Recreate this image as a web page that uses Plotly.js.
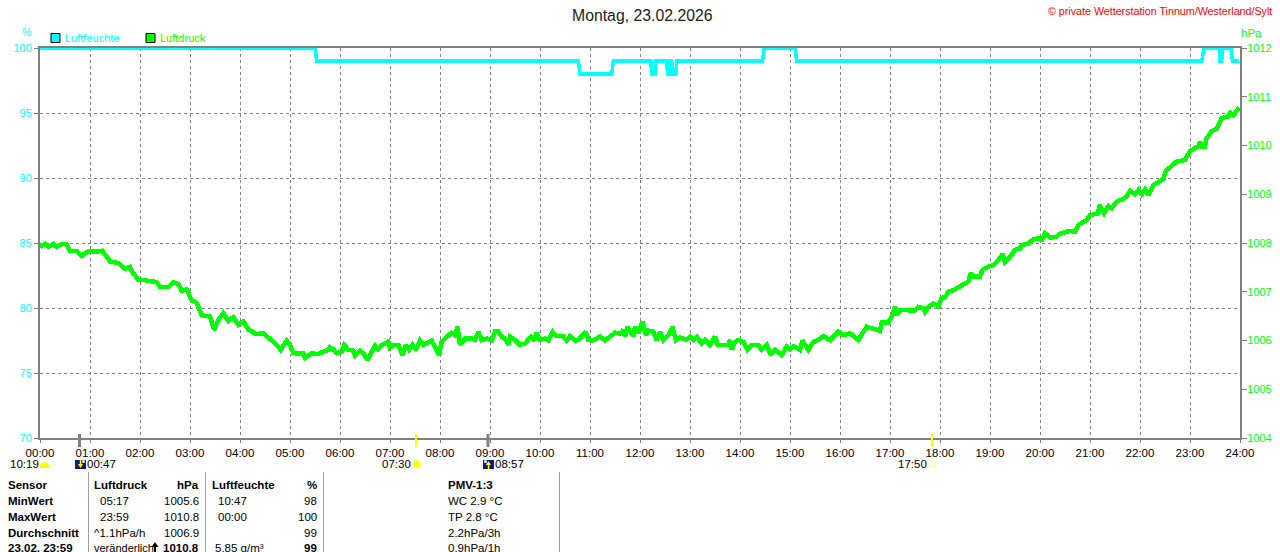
<!DOCTYPE html>
<html><head><meta charset="utf-8">
<script src="https://cdn.plot.ly/plotly-3.0.1.min.js"></script>
<style>html,body{margin:0;padding:0;background:#fff;overflow:hidden}#c{width:1280px;height:552px}
.scatterlayer path{shape-rendering:crispEdges}</style></head><body><div id="c"></div>
<script>
const pressureMinutes=[0,6,10,16,20,26,32,36,44,50,54,60,66,74,78,84,94,102,108,112,118,124,140,144,154,160,166,170,176,182,188,194,204,209,214,220,226,232,238,244,250,260,268,274,284,289,296,300,304,316,318,326,333,346,
348,352,356,362,365,370,376,378,384,388,393,398,402,406,410,418,420,424,430,435,439,443,447,451,456,460,470,474,479,482,488,494,498,501,504,510,518,522,526,530,536,542,546,550,554,558,562,564,570,576,582,589,593,596,600,606,610,615,620,628,632,636,642,646,655,658,664,672,678,684,690,696,700,702,705,708,
712,714,718,723,727,730,736,740,744,748,754,759,763,768,776,780,784,788,794,798,804,810,813,826,828,830,834,838,844,849,854,862,866,872,877,882,890,896,900,904,912,915,922,928,934,940,948,958,964,972,982,992,1000,1008,1010,1018,1022,1026,1028,1034,1050,1054,1060,1062,1066,
1072,1078,1082,1086,1090,1096,1104,1114,1117,1120,1128,1131,1138,1144,1150,1155,1158,1164,1170,1176,1179,1186,1192,1200,1202,1206,1212,1220,1224,1230,1236,1242,1246,1256,1260,1270,1271,1277,1282,1286,1292,1298,1304,1308,1314,1318,1322,1326,1330,1336,1342,1348,1351,1358,1364,1374,1380,1390,1392,1394,1398,1400,1406,1412,1418,1426,1428,1432,1438,1439];
const pressureHpa=[1007.92,1007.98,1007.92,1007.98,1007.92,1007.98,1007.98,1007.84,1007.84,1007.73,1007.79,1007.84,1007.82,1007.84,1007.77,1007.62,1007.59,1007.47,1007.51,1007.38,1007.24,1007.24,1007.20,1007.10,1007.10,1007.19,1007.16,1007.02,1007.05,1006.82,1006.77,1006.52,1006.49,1006.22,1006.42,1006.56,1006.40,1006.48,1006.32,1006.39,1006.22,1006.13,1006.15,1006.07,1005.91,1005.81,1006.00,1005.91,1005.74,1005.73,1005.64,1005.74,1005.72,1005.81,
1005.86,1005.82,1005.74,1005.77,1005.91,1005.81,1005.79,1005.70,1005.79,1005.74,1005.60,1005.77,1005.89,1005.82,1005.90,1005.98,1005.85,1005.91,1005.91,1005.70,1005.91,1005.81,1005.91,1005.81,1006.00,1005.91,1006.00,1005.86,1005.70,1005.98,1006.08,1006.16,1006.11,1006.28,1005.91,1006.04,1006.04,1006.01,1006.18,1006.01,1006.04,1006.00,1006.18,1006.18,1006.08,1006.04,1005.91,1006.08,1006.01,1005.91,1005.94,1006.08,1006.00,1006.16,1006.01,1006.04,1006.00,1006.18,1006.09,1006.09,1006.00,1006.09,1006.00,1006.01,1006.18,1006.01,1006.00,1006.08,1006.00,1006.08,1006.16,1006.14,1006.22,1006.08,1006.28,1006.18,
1006.09,1006.28,1006.15,1006.39,1006.11,1006.20,1006.18,1006.01,1006.17,1006.01,1006.11,1006.28,1006.01,1006.06,1006.01,1006.08,1006.01,1006.08,1005.94,1006.01,1005.91,1006.08,1005.91,1005.91,1006.01,1005.81,1005.97,1006.01,1005.97,1005.81,1005.91,1005.91,1005.81,1005.91,1005.70,1005.81,1005.70,1005.88,1005.81,1005.88,1005.81,1006.00,1005.81,1005.97,1006.01,1006.09,1006.01,1006.18,1006.11,1006.15,1006.01,1006.28,1006.24,1006.20,1006.37,1006.37,1006.49,1006.69,1006.52,1006.63,1006.61,1006.69,1006.66,1006.59,1006.69,
1006.76,1006.70,1006.87,1006.89,1007.00,1007.03,1007.10,1007.21,1007.38,1007.31,1007.31,1007.45,1007.51,1007.55,1007.65,1007.77,1007.61,1007.71,1007.86,1007.89,1007.96,1007.99,1008.08,1008.10,1008.03,1008.20,1008.11,1008.13,1008.19,1008.21,1008.25,1008.23,1008.37,1008.47,1008.57,1008.61,1008.78,1008.61,1008.76,1008.71,1008.85,1008.89,1008.95,1009.07,1009.00,1009.09,1009.00,1009.10,1008.98,1009.19,1009.26,1009.31,1009.48,1009.57,1009.67,1009.70,1009.89,1009.98,1010.08,1009.98,1009.98,1010.15,1010.29,1010.35,1010.56,1010.60,1010.67,1010.62,1010.73,1010.78];
const humidityMinutes=[0,330,332,646,648,686,688,733,734,738,739,752,753,755,756,758,759,763,764,867,869,906,908,1394,1397,1415,1416,1418,1419,1429,1431,1439];
const humidityPct=[100,100,99,99,98,98,99,99,98,98,99,99,98,98,99,99,98,98,99,99,100,100,99,99,100,100,99,99,100,100,99,99];
const hourTicks=[0,60,120,180,240,300,360,420,480,540,600,660,720,780,840,900,960,1020,1080,1140,1200,1260,1320,1380,1440];
const hourLabels=["00:00","01:00","02:00","03:00","04:00","05:00","06:00","07:00","08:00","09:00","10:00","11:00","12:00","13:00","14:00","15:00","16:00","17:00","18:00","19:00","20:00","21:00","22:00","23:00","24:00"];
const humidityTicks=[70,75,80,85,90,95,100];
const pressureTicks=[1004,1005,1006,1007,1008,1009,1010,1011,1012];
const sunEvents=["10:19","07:30","17:50"];
const moonEvents=["00:47","08:57"];
const tableRows=[
 ["Sensor","Luftdruck","hPa","Luftfeuchte","%","PMV-1:3"],
 ["MinWert","05:17","1005.6","10:47","98","WC 2.9 °C"],
 ["MaxWert","23:59","1010.8","00:00","100","TP 2.8 °C"],
 ["Durchschnitt","^1.1hPa/h","1006.9","","99","2.2hPa/3h"],
 ["23.02. 23:59","veränderlich","1010.8","5.85 g/m³","99","0.9hPa/1h"]];

const FONT='"Liberation Sans",Arial,sans-serif';
const GRAY='#808080';
const px=x=>(x-40)/1200, py=y=>(438-y)/390;
const ann=[],shp=[];
function T(x,y,t,o={}){const a=o.a||'left';const dx=a==='right'?1.5:a==='left'?-1:0;
 ann.push({xref:'paper',yref:'paper',x:px(x+dx),y:py(y),text:o.b?'<b>'+t+'</b>':t,showarrow:false,
 xanchor:a,yanchor:'middle',align:a,font:{family:FONT,size:o.s||11.5,color:o.c||'#000'},borderpad:0});}
function R(x0,y0,x1,y1,fill,line,w){shp.push({type:'rect',xref:'paper',yref:'paper',x0:px(x0),x1:px(x1),y0:py(y0),y1:py(y1),fillcolor:fill||'rgba(0,0,0,0)',line:{color:line||fill,width:w===undefined?0:w}});}
function L(x0,y0,x1,y1,c,w){shp.push({type:'line',xref:'paper',yref:'paper',x0:px(x0),x1:px(x1),y0:py(y0),y1:py(y1),line:{color:c,width:w}});}
function C(x0,y0,x1,y1,fill,line,w){shp.push({type:'circle',xref:'paper',yref:'paper',x0:px(x0),x1:px(x1),y0:py(y0),y1:py(y1),fillcolor:fill,line:{color:line||fill,width:w||0}});}
function P(pts,fill){shp.push({type:'path',xref:'paper',yref:'paper',path:'M'+pts.map(p=>px(p[0])+','+py(p[1])).join(' L')+' Z',fillcolor:fill,line:{width:0}});}

// header
T(642.5,15,'Montag, 23.02.2026',{a:'center',s:15.8,c:'#222'});
T(1048,11,'© private Wetterstation Tinnum/Westerland/Sylt',{s:10.7,c:'#ff0000'});
T(26.5,32,'%',{a:'center',s:11,c:'#00ffff'});
T(1241,33,'hPa',{s:11.5,c:'#00ff00'});
// legend
R(51,33.5,60,42.5,'#00ffff','#000',1);
T(65,38,'Luftfeuchte',{s:11,c:'#00ffff'});
R(146,33.5,155,42.5,'#00ff00','#000',1);
T(160,38,'Luftdruck',{s:11,c:'#00ff00'});
// event markers
L(79.5,434,79.5,447,GRAY,3);L(488,434,488,447,GRAY,3);
L(416,434,416,447,'#ffff00',2);L(932,434,932,447,'#ffff00',2);
T(10,464,sunEvents[0]);
shp.push({type:'path',xref:'paper',yref:'paper',path:`M${px(40)},${py(468)} L${px(40)},${py(465)} Q${px(44.5)},${py(459)} ${px(49)},${py(465)} L${px(49)},${py(468)} Z`,fillcolor:'#ffff00',line:{width:0}});
function moon(x,up){R(x,460,x+11,469,'#0a1a80');C(x+(up?1:7),460,x+(up?4:10),463,'#ffffff');
 P(up?[[x+5.5,461],[x+8,465],[x+2.8,465]]:[[x+5.5,468],[x+8,464],[x+2.8,464]],'#ffff00');
 L(x+5.5,up?465:460,x+5.5,up?469:464,'#ffff00',1.5);}
moon(75,false);T(87,464,moonEvents[0]);
T(382,464,sunEvents[1]);C(413,460,421,468,'#ffff00','#ffffa0',1.5);
moon(483,true);T(495,464,moonEvents[1]);
T(898,464,sunEvents[2]);R(929.5,461,934.5,467,'#ffffff','#ffff80',1);
// table
[88.5,205.5,323.5,559.5].forEach(x=>L(x,472,x,552,'#a0a0a0',1));
const rowY=[484.5,500.5,516.5,532.5,548];
const nameX=[94,100,100,94,94], humX=[212,218,218,218,215];
tableRows.forEach((r,i)=>{const y=rowY[i],h=i===0,l=i===4;
 T(8,y,r[0],{b:true});
 T(nameX[i],y,r[1],{b:h,s:i===4?11:11.5});
 T(198,y,r[2],{a:'right',b:h||l});
 if(r[3])T(humX[i],y,r[3],{b:h});
 T(316,y,r[4],{a:'right',b:h||l});
 T(448,y,r[5],{b:h});
});
P([[155,542],[158.5,547],[151.5,547]],'#000');L(155,546,155,552,'#000',2);

const data=[
 {x:humidityMinutes,y:humidityPct,type:'scatter',mode:'lines',name:'Luftfeuchte',line:{color:'#00ffff',width:3.5},yaxis:'y'},
 {x:pressureMinutes,y:pressureHpa,type:'scatter',mode:'lines',name:'Luftdruck',line:{color:'#00ff00',width:4.5},yaxis:'y2'}];
const layout={width:1280,height:552,margin:{l:40,r:40,t:48,b:114,pad:0},paper_bgcolor:'#fff',plot_bgcolor:'#fff',showlegend:false,
 font:{family:FONT,size:12,color:'#000'},
 xaxis:{range:[0,1440],tickmode:'array',tickvals:hourTicks,ticktext:hourLabels,ticks:'outside',ticklen:3,tickcolor:GRAY,tickfont:{family:FONT,size:11.5,color:'#000'},
  showgrid:true,gridcolor:GRAY,griddash:'3px,3px',gridwidth:1,showline:true,linecolor:GRAY,linewidth:2,mirror:true,zeroline:false,tickangle:0},
 yaxis:{range:[70,100],tickmode:'array',tickvals:humidityTicks,ticks:'outside',ticklen:4,tickcolor:GRAY,tickfont:{family:FONT,size:11,color:'#00ffff'},
  showgrid:true,gridcolor:GRAY,griddash:'3px,3px',gridwidth:1,showline:true,linecolor:GRAY,linewidth:2,zeroline:false},
 yaxis2:{range:[1004,1012],overlaying:'y',side:'right',tickmode:'array',tickvals:pressureTicks,ticks:'outside',ticklen:5,ticklabelstandoff:-2,tickcolor:GRAY,tickfont:{family:FONT,size:11,color:'#00ff00'},
  showgrid:false,showline:true,linecolor:GRAY,linewidth:2,zeroline:false,tickformat:'d'},
 annotations:ann,shapes:shp};
Plotly.newPlot('c',data,layout,{staticPlot:true,displayModeBar:false});
</script></body></html>
